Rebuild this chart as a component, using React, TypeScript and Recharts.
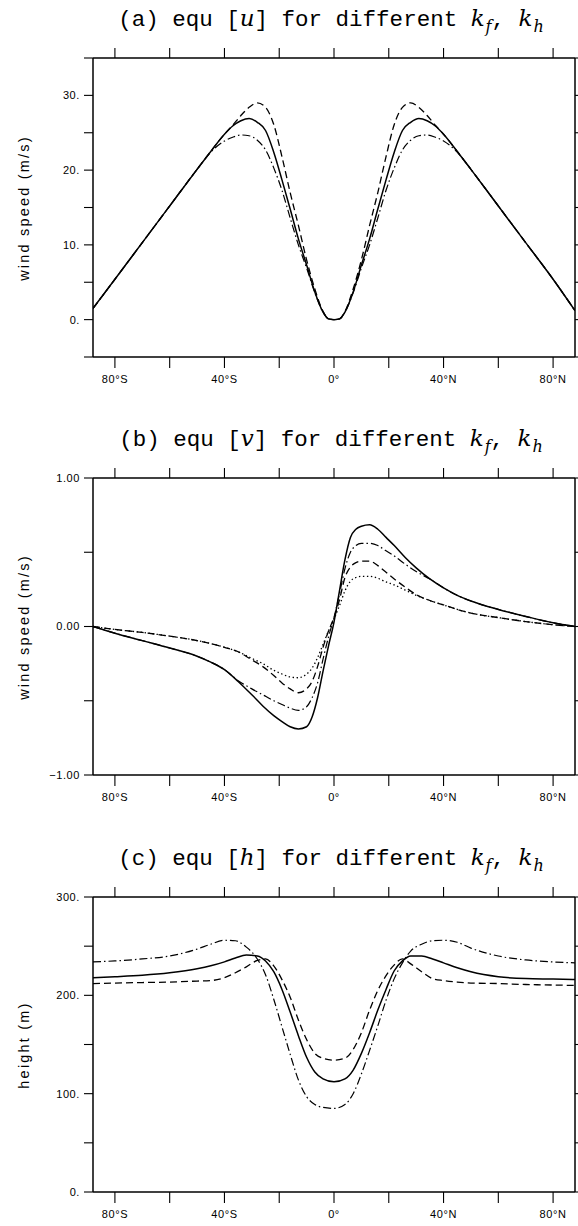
import React from 'react';
import { LineChart, Line, XAxis, YAxis } from 'recharts';

// ---------- shared x axis ----------
const latTicks = [-80, -60, -40, -20, 0, 20, 40, 60, 80];
const latTickLabels = ['80°S', '', '40°S', '', '0°', '', '40°N', '', '80°N'];

// ---------- panel (a): [u] ----------
const uLat = [-88, -80, -70, -60, -50, -45, -40, -37, -34, -31, -28, -25, -22, -19, -16, -13, -10, -7, -4, -2, 0,
  2, 4, 7, 10, 13, 16, 19, 22, 25, 28, 31, 34, 37, 40, 45, 50, 60, 70, 80, 88];
const uSolid = [1.5, 5.4, 10.3, 15.2, 20.1, 22.5, 24.8, 25.9, 26.6, 26.9, 26.4, 25.3, 22.4, 18.7, 14.8, 10.8, 7.3, 3.7, 1.0, 0.1, 0.0,
  0.1, 1.0, 3.7, 7.3, 10.8, 14.8, 18.7, 22.4, 25.3, 26.4, 26.9, 26.6, 25.9, 24.8, 22.5, 20.1, 15.2, 10.3, 5.4, 1.2];
const uDashed = [1.5, 5.4, 10.3, 15.2, 20.1, 22.5, 24.8, 26.0, 27.3, 28.4, 29.0, 28.4, 26.1, 21.8, 17.0, 12.6, 8.0, 4.1, 1.1, 0.1, 0.0,
  0.1, 1.1, 4.1, 8.0, 12.6, 17.0, 21.8, 26.1, 28.4, 29.0, 28.4, 27.3, 26.0, 24.8, 22.5, 20.1, 15.2, 10.3, 5.4, 1.2];
const uDashDot = [1.5, 5.4, 10.3, 15.2, 20.1, 22.4, 23.9, 24.4, 24.7, 24.6, 24.0, 22.7, 20.3, 17.3, 13.6, 10.0, 6.9, 3.6, 1.0, 0.1, 0.0,
  0.1, 1.0, 3.6, 6.9, 10.0, 13.6, 17.3, 20.3, 22.7, 24.0, 24.6, 24.7, 24.4, 23.9, 22.4, 20.1, 15.2, 10.3, 5.4, 1.2];
const uTicks = [-5, 0, 5, 10, 15, 20, 25, 30, 35];
const uTickLabels = ['', '0.', '', '10.', '', '20.', '', '30.', ''];

// ---------- panel (b): [v] ----------
const vLat = [-88, -80, -70, -60, -50, -45, -40, -35, -30, -26, -22, -19, -16, -13, -10, -8, -6, -4, -2, 0,
  2, 4, 6, 8, 10, 13, 16, 19, 22, 26, 30, 35, 40, 45, 50, 60, 70, 80, 88];
const vSolid = [0.0, -0.045, -0.095, -0.145, -0.2, -0.24, -0.29, -0.37, -0.46, -0.535, -0.6, -0.64, -0.675, -0.69, -0.675, -0.61, -0.48, -0.3, -0.13, 0.03,
  0.24, 0.45, 0.6, 0.655, 0.675, 0.685, 0.655, 0.6, 0.545, 0.465, 0.395, 0.32, 0.26, 0.21, 0.172, 0.115, 0.068, 0.025, 0.0];
const vDashDot = [0.0, -0.045, -0.095, -0.145, -0.2, -0.24, -0.29, -0.365, -0.42, -0.46, -0.5, -0.525, -0.55, -0.565, -0.54, -0.48, -0.38, -0.22, -0.07, 0.06,
  0.22, 0.39, 0.5, 0.545, 0.56, 0.56, 0.545, 0.51, 0.475, 0.42, 0.37, 0.32, 0.26, 0.21, 0.172, 0.115, 0.068, 0.025, 0.0];
const vDashed = [0.0, -0.02, -0.04, -0.065, -0.095, -0.115, -0.14, -0.17, -0.225, -0.27, -0.33, -0.38, -0.42, -0.446, -0.42, -0.37, -0.27, -0.14, -0.03, 0.06,
  0.18, 0.33, 0.4, 0.43, 0.44, 0.44, 0.41, 0.365, 0.32, 0.265, 0.215, 0.175, 0.145, 0.115, 0.09, 0.06, 0.033, 0.012, 0.0];
const vDotted = [0.0, -0.02, -0.04, -0.065, -0.095, -0.115, -0.14, -0.17, -0.215, -0.25, -0.295, -0.32, -0.34, -0.345, -0.32, -0.28, -0.21, -0.12, -0.03, 0.05,
  0.14, 0.24, 0.305, 0.33, 0.338, 0.338, 0.325, 0.3, 0.28, 0.245, 0.21, 0.175, 0.145, 0.115, 0.09, 0.06, 0.033, 0.012, 0.0];
const vTicks = [-1, -0.5, 0, 0.5, 1];
const vTickLabels = ['\u22121.00', '', '0.00', '', '1.00'];

// ---------- panel (c): [h] ----------
const hLat = [-88, -80, -70, -60, -50, -45, -40, -36, -32, -28, -25, -22, -19, -16, -13, -10, -7, -4, 0,
  4, 7, 10, 13, 16, 19, 22, 25, 28, 32, 36, 40, 45, 50, 60, 70, 80, 88];
const hSolid = [218, 219, 220.5, 223, 227, 230, 234, 238, 241, 240, 235, 224, 206, 183, 159, 137, 122, 115, 112,
  115, 124, 141, 162, 185, 206, 225, 235, 240, 240, 237, 233, 228, 224, 219, 217, 216.5, 216];
const hDashed = [212, 212.5, 213, 213.5, 214.5, 215, 218, 223, 229, 235.5, 237, 230, 216, 198, 175, 155, 141, 136, 134,
  136, 145, 162, 185, 205, 220, 231, 237, 232, 224, 217, 215, 213.5, 212.5, 212, 211, 210.5, 210];
const hDashDot = [234, 235, 237, 240, 247, 252, 256, 255.5, 249, 237, 221, 196, 168, 140, 114, 97, 89, 86, 85,
  89, 100, 120, 144, 169, 195, 217, 233, 245, 252, 255.5, 256, 254, 248, 240, 236, 234, 233];
const hTicks = [0, 50, 100, 150, 200, 250, 300];
const hTickLabels = ['0.', '', '100.', '', '200.', '', '300.'];

// ---------- build tables ----------
const uData = uLat.map((lat, i) => ({ lat, solid: uSolid[i], dashed: uDashed[i], dashdot: uDashDot[i] }));
const vData = vLat.map((lat, i) => ({ lat, solid: vSolid[i], dashdot: vDashDot[i], dashed: vDashed[i], dotted: vDotted[i] }));
const hData = hLat.map((lat, i) => ({ lat, solid: hSolid[i], dashed: hDashed[i], dashdot: hDashDot[i] }));

const STYLES: Record<string, { dash?: string; w: number }> = {
  dotted: { dash: '1.4 2.6', w: 1.3 },
  dashed: { dash: '7 4', w: 1.3 },
  dashdot: { dash: '8 3 1.5 3', w: 1.2 },
  solid: { w: 1.5 },
};

const SANS = '"Liberation Sans", Arial, Helvetica, sans-serif';
const MONO = '"Liberation Mono", "Courier New", monospace';
const MATH = '"DejaVu Serif", "Liberation Serif", serif';

const W = 578;
const M_TOP = 57;
const X_H = 43;
const PLOT_LEFT = 93;
const PLOT_RIGHT = 575;

function Title({ letter, sym }: { letter: string; sym: string }) {
  const it: React.CSSProperties = { fontFamily: MATH, fontStyle: 'italic', fontSize: 23 };
  const sub: React.CSSProperties = { fontFamily: MATH, fontStyle: 'italic', fontSize: 16, position: 'relative', top: 6, marginLeft: 1 };
  return (
    <div
      style={{
        position: 'absolute',
        left: (PLOT_LEFT + PLOT_RIGHT) / 2 - 3,
        top: 5,
        transform: 'translateX(-50%)',
        whiteSpace: 'nowrap',
        fontFamily: MONO,
        fontSize: 22.5,
        lineHeight: '26px',
        color: '#000',
      }}
    >
      ({letter}) equ [<span style={it}>{sym}</span>] for different <span style={it}>k</span>
      <span style={sub}>f</span>,&nbsp;<span style={it}>k</span>
      <span style={sub}>h</span>
    </div>
  );
}

type PanelProps = {
  top: number;
  plotH: number;
  data: any[];
  keys: string[];
  yDomain: [number, number];
  yTicks: number[];
  yTickLabels: string[];
  yTitle: string;
  letter: string;
  sym: string;
};

function Panel({ top, plotH, data, keys, yDomain, yTicks, yTickLabels, yTitle, letter, sym }: PanelProps) {
  const H = M_TOP + 1 + plotH + X_H;
  const fmtY = (v: number) => {
    const i = yTicks.indexOf(v);
    return i >= 0 ? yTickLabels[i] : '';
  };
  const fmtX = (v: number) => {
    const i = latTicks.indexOf(v);
    return i >= 0 ? latTickLabels[i] : '';
  };
  const blank = () => '';
  const axisLine = { stroke: '#000', strokeWidth: 1.5 };
  const tickLine = { stroke: '#000', strokeWidth: 1.1 };
  const tickText = { fill: '#000', fontSize: 11, fontFamily: SANS, letterSpacing: 0.6 };
  return (
    <div style={{ position: 'absolute', left: 0, top, width: W, height: H }}>
      <LineChart width={W} height={H} data={data} margin={{ top: M_TOP, right: W - PLOT_RIGHT - 1, bottom: 0, left: 0 }}>
        <XAxis
          dataKey="lat"
          type="number"
          domain={[-88, 88]}
          allowDataOverflow
          ticks={latTicks}
          interval={0}
          tickFormatter={fmtX}
          tickSize={11}
          tickMargin={7}
          height={X_H}
          axisLine={axisLine}
          tickLine={tickLine}
          tick={tickText}
        />
        <XAxis
          xAxisId="top"
          orientation="top"
          dataKey="lat"
          type="number"
          domain={[-88, 88]}
          allowDataOverflow
          ticks={latTicks}
          interval={0}
          tickFormatter={blank}
          tickSize={10}
          height={1}
          axisLine={axisLine}
          tickLine={tickLine}
          tick={tickText}
        />
        <YAxis
          type="number"
          domain={yDomain}
          allowDataOverflow
          ticks={yTicks}
          interval={0}
          tickFormatter={fmtY}
          width={PLOT_LEFT}
          tickSize={9}
          tickMargin={4}
          axisLine={axisLine}
          tickLine={tickLine}
          tick={tickText}
        />
        <YAxis
          yAxisId="r"
          orientation="right"
          type="number"
          domain={yDomain}
          allowDataOverflow
          ticks={yTicks}
          interval={0}
          tickFormatter={blank}
          width={1}
          tickSize={8}
          axisLine={axisLine}
          tickLine={tickLine}
          tick={tickText}
        />
        <Line
          xAxisId="top"
          yAxisId="r"
          dataKey="solid"
          stroke="none"
          strokeWidth={0}
          dot={false}
          activeDot={false}
          isAnimationActive={false}
        />
        {keys.map((k) => (
          <Line
            key={k}
            dataKey={k}
            type="monotone"
            stroke="#000"
            strokeWidth={STYLES[k].w}
            strokeDasharray={STYLES[k].dash}
            dot={false}
            activeDot={false}
            isAnimationActive={false}
          />
        ))}
      </LineChart>
      <Title letter={letter} sym={sym} />
      <div
        style={{
          position: 'absolute',
          left: 24,
          top: M_TOP + 1 + plotH / 2,
          transform: 'translate(-50%, -50%) rotate(-90deg)',
          whiteSpace: 'nowrap',
          fontFamily: SANS,
          fontSize: 14.5,
          letterSpacing: 2.2,
          color: '#000',
        }}
      >
        {yTitle}
      </div>
    </div>
  );
}

export default function App() {
  return (
    <div style={{ position: 'absolute', left: 0, top: 0, width: W, height: 1226, overflow: 'hidden', background: '#fff' }}>
      <Panel
        top={0}
        plotH={299}
        data={uData}
        keys={['dashdot', 'dashed', 'solid']}
        yDomain={[-5, 35]}
        yTicks={uTicks}
        yTickLabels={uTickLabels}
        yTitle="wind speed (m/s)"
        letter="a"
        sym="u"
      />
      <Panel
        top={420}
        plotH={297}
        data={vData}
        keys={['dotted', 'dashed', 'dashdot', 'solid']}
        yDomain={[-1, 1]}
        yTicks={vTicks}
        yTickLabels={vTickLabels}
        yTitle="wind speed (m/s)"
        letter="b"
        sym="v"
      />
      <Panel
        top={839}
        plotH={295}
        data={hData}
        keys={['dashdot', 'dashed', 'solid']}
        yDomain={[0, 300]}
        yTicks={hTicks}
        yTickLabels={hTickLabels}
        yTitle="height (m)"
        letter="c"
        sym="h"
      />
    </div>
  );
}
